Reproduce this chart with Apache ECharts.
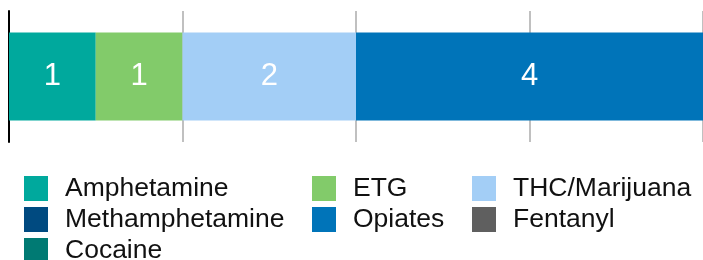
<!DOCTYPE html>
<html>
<head>
<meta charset="utf-8">
<script src="https://cdn.jsdelivr.net/npm/echarts@6/dist/echarts.min.js"></script>
<style>
  html, body { margin: 0; padding: 0; background: #fff; }
  #chart { width: 703px; height: 260px; }
</style>
</head>
<body>
<div id="chart"></div>
<script>
const categories = ['Drug tests'];
const seriesNames = ['Amphetamine', 'ETG', 'THC/Marijuana', 'Opiates', 'Methamphetamine', 'Fentanyl', 'Cocaine'];
const seriesValues = [1, 1, 2, 4, 0, 0, 0];
const seriesColors = ['#00a99d', '#82cb6a', '#a3cef6', '#0074b9', '#004a80', '#5f5f5f', '#007a73'];
const legendColumns = [
    ['Amphetamine', 'Methamphetamine', 'Cocaine'],
    ['ETG', 'Opiates'],
    ['THC/Marijuana', 'Fentanyl']
];
const legendLefts = [19, 307, 467];

const chart = echarts.init(document.getElementById('chart'));

function makeLegend(names, left) {
    return {
        data: names,
        orient: 'vertical',
        left: left,
        top: 170,
        height: 120,
        itemWidth: 24,
        itemHeight: 25,
        itemGap: 4,
        icon: 'rect',
        selectedMode: false,
        textStyle: {
            fontFamily: 'Liberation Sans, Arial, sans-serif',
            fontSize: 26.5,
            lineHeight: 24,
            color: '#111',
            padding: [0, 0, 0, 12]
        }
    };
}

const options = {
    animation: false,
    legend: legendColumns.map((names, i) => makeLegend(names, legendLefts[i])),
    grid: {
        left: 9,
        right: 0,
        top: 11,
        height: 131
    },
    xAxis: {
        type: 'value',
        min: 0,
        max: 8,
        interval: 2,
        axisLine: { show: false },
        axisTick: { show: false },
        axisLabel: { show: false },
        splitLine: { lineStyle: { color: '#c0c0c0', width: 2 } }
    },
    yAxis: {
        type: 'category',
        data: categories,
        axisLine: { lineStyle: { color: '#000', width: 2 } },
        axisTick: { show: false },
        axisLabel: { show: false }
    },
    series: seriesNames.map((name, i) => ({
        name: name,
        type: 'bar',
        stack: 'total',
        barWidth: 88,
        itemStyle: { color: seriesColors[i] },
        label: {
            show: true,
            position: 'inside',
            color: '#fff',
            fontSize: 31,
            fontFamily: 'Liberation Sans, Arial, sans-serif',
            formatter: p => (p.value ? p.value : '')
        },
        data: [seriesValues[i]]
    }))
};

chart.setOption(options);
</script>
</body>
</html>
